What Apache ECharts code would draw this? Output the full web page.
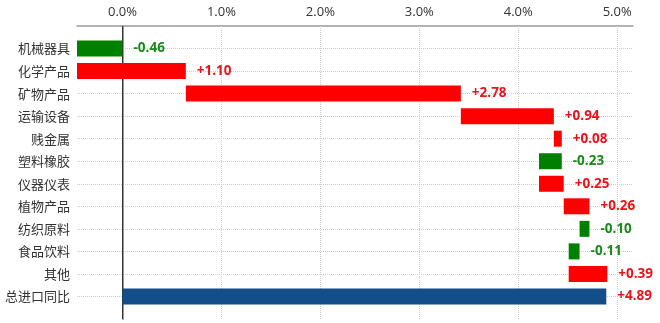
<!DOCTYPE html>
<html>
<head>
<meta charset="utf-8">
<script src="https://cdn.jsdelivr.net/npm/echarts@6/dist/echarts.min.js"></script>
<style>
  html, body { margin: 0; padding: 0; background: #fff; }
  #chart { width: 660px; height: 323px; }
</style>
</head>
<body>
<div id="chart"></div>
<script>
// Import growth contribution by product group (percentage points)
const categories = ['机械器具', '化学产品', '矿物产品', '运输设备', '贱金属', '塑料橡胶',
                    '仪器仪表', '植物产品', '纺织原料', '食品饮料', '其他'];
const contributions = [-0.46, 1.10, 2.78, 0.94, 0.08, -0.23, 0.25, 0.26, -0.10, -0.11, 0.39];
const totalLabel = '总进口同比';
const totalValue = 4.89;
const xTicks = [0, 1, 2, 3, 4, 5];

const RED = '#ff0000', GREEN = '#008000', BLUE = '#124e89';
const LABEL_RED = '#e8141b', LABEL_GREEN = '#1a8a1a';

// Blank slots above and below keep the rows off the grid edges
const yData = [''].concat(categories, [totalLabel], ['']);

// Waterfall: invisible offset + visible step, stacked on the running sum
const offsets = ['-'];
const steps = ['-'];
let running = 0;
contributions.forEach(v => {
  const next = running + v;
  offsets.push(Math.min(running, next));
  steps.push({
    value: Math.abs(v),
    raw: v,
    itemStyle: { color: v >= 0 ? RED : GREEN },
    label: { color: v >= 0 ? LABEL_RED : LABEL_GREEN }
  });
  running = next;
});
offsets.push(0);
steps.push({
  value: totalValue,
  raw: totalValue,
  itemStyle: { color: BLUE },
  label: { color: LABEL_RED }
});
offsets.push('-');
steps.push('-');

const fmt = v => (v >= 0 ? '+' : '') + v.toFixed(2);

const chart = echarts.init(document.getElementById('chart'), null, { renderer: 'canvas' });
chart.setOption({
  animation: false,
  textStyle: { fontFamily: '"Noto Sans CJK SC", "Open Sans", sans-serif' },
  grid: { left: 77, right: 27, top: 26, bottom: 4, containLabel: false },
  xAxis: {
    type: 'value',
    position: 'top',
    min: -0.46,
    max: 5.16,
    axisLine: { show: true, onZero: false, lineStyle: { color: '#999', width: 1.5 } },
    axisTick: { show: false, customValues: xTicks },
    axisLabel: {
      customValues: xTicks,
      formatter: v => v.toFixed(1) + '%',
      color: '#333',
      fontSize: 13,
      margin: 7,
      fontFamily: '"Open Sans", "Noto Sans", sans-serif'
    },
    splitLine: { show: false }
  },
  yAxis: {
    type: 'category',
    inverse: true,
    boundaryGap: false,
    data: yData,
    axisLine: { show: true, lineStyle: { color: '#999', width: 2 } },
    axisTick: { show: false },
    axisLabel: { color: '#333', fontSize: 13, margin: 7 },
    splitLine: {
      show: true,
      interval: idx => idx > 0 && idx < yData.length - 1,
      lineStyle: { color: '#ccc', type: 'dotted' }
    }
  },
  series: [
    {
      // vertical grid and zero line, kept beneath the bars
      name: 'guides',
      type: 'line',
      z: 1,
      data: [],
      markLine: {
        z: 1,
        silent: true,
        symbol: 'none',
        label: { show: false },
        data: xTicks.filter(t => t !== 0).map(t => ({
          xAxis: t, lineStyle: { color: '#ccc', type: 'dotted', width: 1 }
        })).concat([{ xAxis: 0, lineStyle: { color: '#333', type: 'solid', width: 1 } }])
      }
    },
    {
      name: 'offset',
      type: 'bar',
      stack: 'wf',
      stackStrategy: 'all',
      barWidth: 16,
      z: 2,
      itemStyle: { color: 'transparent' },
      emphasis: { disabled: true },
      data: offsets
    },
    {
      name: 'step',
      type: 'bar',
      stack: 'wf',
      stackStrategy: 'all',
      barWidth: 16,
      z: 2,
      data: steps,
      label: {
        show: true,
        position: 'right',
        distance: 11,
        fontSize: 13.5,
        fontWeight: 'bold',
        fontFamily: '"Open Sans", "Noto Sans", sans-serif',
        formatter: p => fmt(p.data.raw)
      }
    }
  ]
});
</script>
</body>
</html>
